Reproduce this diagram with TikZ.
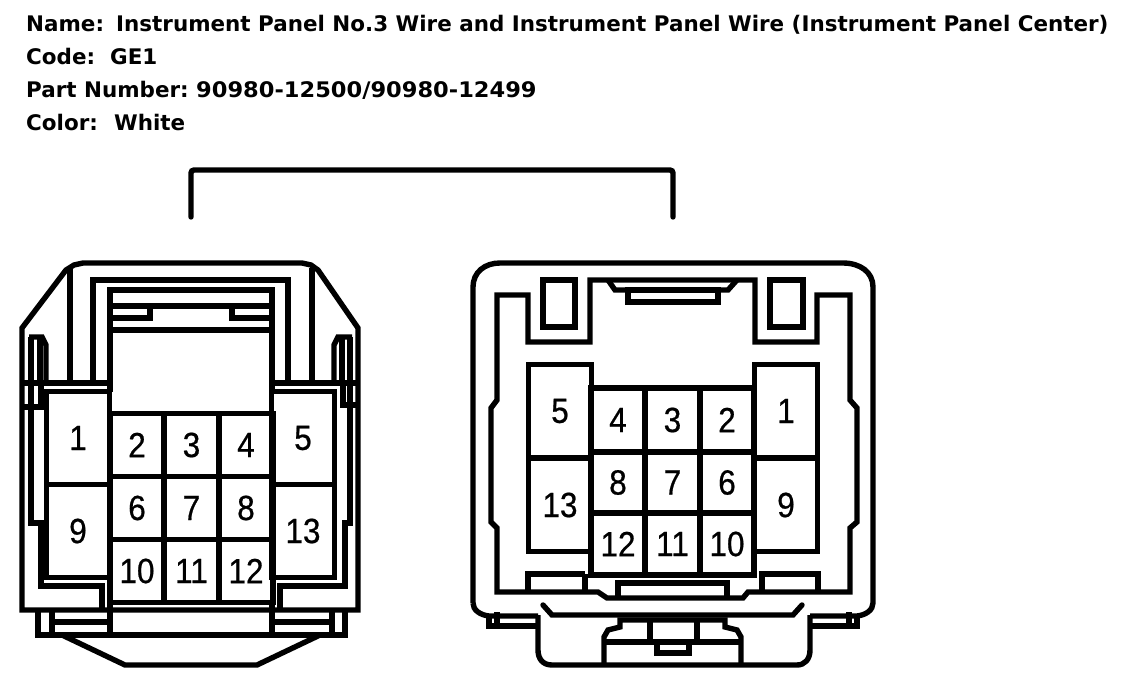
\documentclass[tikz,border=0pt]{standalone}
\usepackage{fontspec}
\setmainfont{DejaVu Sans}
\newfontfamily\pinfont[FakeStretch=0.9, FakeBold=0.6]{Liberation Sans}
\tikzset{
    wire/.style={line width=5.4pt},
    title/.style={anchor=base west, inner sep=0pt, font=\fontsize{21.45}{24}\selectfont\bfseries},
    cavity/.style={draw, rectangle, line width=5.4pt, inner sep=0pt, font=\fontsize{35}{35}\selectfont\pinfont},
    small/.style={cavity, minimum width=54pt, minimum height=63pt},
    big/.style={cavity, minimum width=63pt, minimum height=93pt}
}
\begin{document}
\begin{tikzpicture}[x=1pt, y=-1pt, node distance=54.5pt]
    \useasboundingbox (0,0) rectangle (1136,688);

    % Header
    \node (name) [title] at (26,31) {Name:};
    \node (name_val) [title] at (116,31) {Instrument Panel No.3 Wire and Instrument Panel Wire (Instrument Panel Center)};
    \node (code) [title] at (26,64) {Code:};
    \node (code_val) [title] at (110,64) {GE1};
    \node (part) [title] at (26,97) {Part Number:};
    \node (part_val) [title] at (196,97) {\addfontfeature{FakeStretch=1.05}90980-12500/90980-12499};
    \node (color) [title] at (26,130) {Color:};
    \node (color_val) [title] at (114,130) {White};

    % Bracket
    \coordinate (br_l) at (191,217);
    \coordinate (br_r) at (673,217);
    \draw[wire, line cap=round, rounded corners=3pt] (br_l) |- (432,170) -| (br_r);

    % Left connector, housing
    \draw[wire] (22,610) -- (22,328) -- (66,270) -- (74,265) -- (83,263) -- (302,263) -- (311,265) -- (318,270) -- (358,328) -- (358,610) -- cycle;
    \draw[wire] (70,268) -- (70,383);
    \draw[wire] (312,268) -- (312,383);
    \draw[wire] (93,383) -- (93,280) -- (288,280) -- (288,383);
    \draw[wire] (110,392) -- (110,290) -- (272,290) -- (272,392);
    \draw[wire] (110,306) -- (272,306);
    \draw[wire] (110,330) -- (272,330);
    \draw[wire] (110,318) -- (150,318) -- (150,306);
    \draw[wire] (272,318) -- (232,318) -- (232,306);
    \draw[wire] (22,383) -- (110,383);
    \draw[wire] (272,383) -- (358,383);
    % Left connector, side latches
    \draw[wire] (29,337) -- (42,337) -- (46,345) -- (46,383);
    \draw[wire] (352,337) -- (338,337) -- (334,345) -- (334,383);
    \draw[wire] (31,337) -- (31,523) -- (41,523) -- (41,586) -- (102,586) -- (102,610);
    \draw[wire] (350,337) -- (350,523) -- (345,523) -- (345,586) -- (280,586) -- (280,610);
    \draw[wire] (40,337) -- (40,383);
    \draw[wire] (342,337) -- (342,383);
    \draw[wire] (22,407) -- (41,407) -- (41,383);
    \draw[wire] (358,405) -- (343,405) -- (343,383);
    % Left connector, foot
    \draw[wire] (38,610) -- (38,635) -- (345,635) -- (345,610);
    \draw[wire] (52,610) -- (52,635);
    \draw[wire] (332,610) -- (332,635);
    \draw[wire] (110,602) -- (110,635);
    \draw[wire] (272,602) -- (272,635);
    \draw[wire] (52,622) -- (110,622);
    \draw[wire] (272,622) -- (332,622);
    \draw[wire] (62,635) -- (125,665) -- (257,665) -- (320,635);

    % Left connector, cavities
    \node (l1) [big] at (78,438) {1};
    \node (l9) [big, below of=l1, node distance=93pt] {9};
    \node (l5) [big] at (303,438) {5};
    \node (l13) [big, below of=l5, node distance=93pt] {13};
    \node (l2) [small] at (137,445) {2};
    \node (l3) [small, right of=l2] {3};
    \node (l4) [small, right of=l3] {4};
    \node (l6) [small] at (137,508) {6};
    \node (l7) [small, right of=l6] {7};
    \node (l8) [small, right of=l7] {8};
    \node (l10) [small] at (137,571) {10};
    \node (l11) [small, right of=l10] {11};
    \node (l12) [small, right of=l11] {12};

    % Right connector, housing
    \draw[wire] (473,603) -- (473,287) .. controls (473,272) and (485,263) .. (500,263) -- (843,263) .. controls (860,263) and (873,272) .. (873,287) -- (873,603) .. controls (873,610) and (866,615) .. (857,616) -- (810,616);
    \draw[wire] (473,603) .. controls (473,610) and (480,615) .. (489,616) -- (538,616);
    \draw[wire] (489,616) -- (489,626) -- (538,626);
    \draw[wire] (857,616) -- (857,626) -- (810,626);
    \draw[wire] (497,612) -- (497,626);
    \draw[wire] (849,612) -- (849,626);
    \draw[wire] (497,295) -- (497,400) -- (491,408) -- (491,522) -- (497,528) -- (497,592) -- (598,592) -- (607,598) -- (743,598) -- (748,592) -- (850,592) -- (850,528) -- (857,522) -- (857,408) -- (850,400) -- (850,295) -- (817,295) -- (817,342) -- (755,342) -- (755,280) -- (590,280) -- (590,342) -- (528,342) -- (528,295) -- cycle;
    \draw[wire] (543,280) rectangle (575,327);
    \draw[wire] (770,280) rectangle (803,327);
    \draw[wire] (608,280) -- (615,290) -- (728,290) -- (737,280);
    \draw[wire] (628,290) rectangle (718,302);
    % Right connector, bottom tabs
    \draw[wire] (528,592) -- (528,574) -- (585,574);
    \draw[wire] (818,592) -- (818,574) -- (762,574) -- (762,592);
    \draw[wire] (585,574) -- (585,592);
    \draw[wire] (618,598) -- (618,583) -- (727,583) -- (727,598);
    % Right connector, latch
    \draw[wire, line cap=round] (543,605) -- (552,615) -- (793,615) -- (802,605);
    \draw[wire] (538,615) -- (538,650) .. controls (538,659) and (543,665) .. (552,665) -- (797,665) .. controls (805,665) and (810,659) .. (810,650) -- (810,615);
    \draw[wire] (604,665) -- (604,637) -- (608,630) -- (620,627) -- (620,620) -- (725,620) -- (725,627) -- (737,630) -- (741,637) -- (741,665);
    \draw[wire] (604,642) -- (741,642);
    \draw[wire] (650,620) -- (650,642);
    \draw[wire] (697,620) -- (697,642);
    \draw[wire] (657,642) -- (657,653) -- (689,653) -- (689,642);

    % Right connector, cavities
    \node (r5) [big] at (560,411) {5};
    \node (r13) [big, below of=r5, node distance=94pt] {13};
    \node (r1) [big] at (786,411) {1};
    \node (r9) [big, below of=r1, node distance=94pt] {9};
    \node (r4) [small, minimum height=64pt] at (618,420) {4};
    \node (r3) [small, minimum height=64pt, right of=r4] {3};
    \node (r2) [small, minimum height=64pt, right of=r3] {2};
    \node (r8) [small, minimum height=61pt] at (618,482.5) {8};
    \node (r7) [small, minimum height=61pt, right of=r8] {7};
    \node (r6) [small, minimum height=61pt, right of=r7] {6};
    \node (r12) [small, minimum height=62pt] at (618,544) {12};
    \node (r11) [small, minimum height=62pt, right of=r12] {11};
    \node (r10) [small, minimum height=62pt, right of=r11] {10};
\end{tikzpicture}
\end{document}
